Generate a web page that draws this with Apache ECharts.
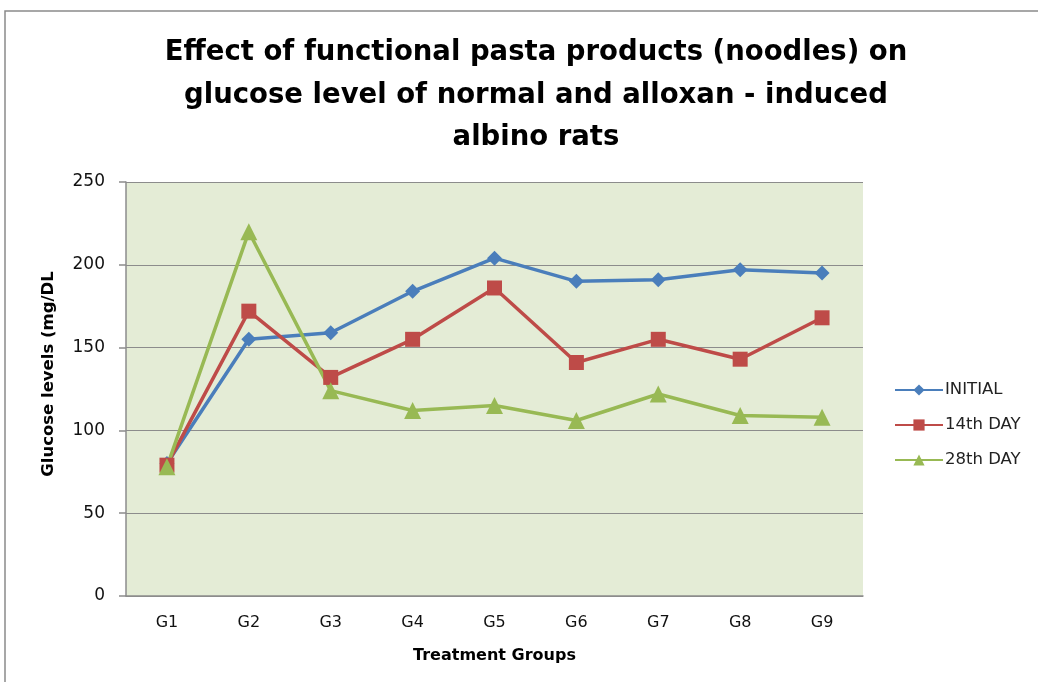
<!DOCTYPE html>
<html>
<head>
<meta charset="utf-8">
<script src="https://cdn.jsdelivr.net/npm/echarts@6/dist/echarts.min.js"></script>
<style>
  html, body { margin: 0; padding: 0; background: #ffffff; }
  #chart { width: 1038px; height: 682px; }
</style>
</head>
<body>
<div id="chart"></div>
<script>
// Treatment groups on the x axis
const groups = ['G1', 'G2', 'G3', 'G4', 'G5', 'G6', 'G7', 'G8', 'G9'];

// Glucose levels (mg/DL) per measurement day
const initialLevels = [80, 155, 159, 184, 204, 190, 191, 197, 195];
const day14Levels   = [79, 172, 132, 155, 186, 141, 155, 143, 168];
const day28Levels   = [78, 220, 124, 112, 115, 106, 122, 109, 108];

const seriesNames = ['INITIAL', '14th DAY', '28th DAY'];

const chart = echarts.init(document.getElementById('chart'), null, { renderer: 'canvas' });

const labelFont = '"DejaVu Sans", sans-serif';

function lineSeries(name, data, color, symbol, size) {
  return {
    name: name,
    type: 'line',
    data: data,
    symbol: symbol,
    symbolSize: size,
    showAllSymbol: true,
    lineStyle: { color: color, width: 3.5 },
    itemStyle: { color: color },
    emphasis: { disabled: true }
  };
}

chart.setOption({
  animation: false,
  backgroundColor: '#ffffff',
  graphic: [{
    type: 'rect',
    shape: { x: 5, y: 11, width: 1100, height: 1000 },
    style: { fill: 'none', stroke: '#8a8a8a', lineWidth: 1.5 },
    silent: true
  }],
  title: {
    text: 'Effect of functional pasta products (noodles) on\nglucose level of normal and alloxan - induced\nalbino rats',
    left: 531,
    top: 27,
    textAlign: 'center',
    textStyle: {
      fontFamily: labelFont,
      fontWeight: 'bold',
      fontSize: 27.5,
      lineHeight: 42.5,
      color: '#000000'
    }
  },
  legend: {
    orient: 'vertical',
    left: 889,
    top: 375,
    itemGap: 15,
    itemWidth: 48,
    itemHeight: 14,
    data: seriesNames,
    textStyle: { fontFamily: labelFont, fontSize: 16.5, lineHeight: 20, color: '#222222', padding: [0, 0, 0, -3] }
  },
  grid: {
    left: 126,
    top: 182,
    right: 175,
    bottom: 86,
    show: true,
    backgroundColor: '#e4ecd6',
    borderWidth: 0
  },
  xAxis: {
    type: 'category',
    data: groups,
    boundaryGap: true,
    name: 'Treatment Groups',
    nameLocation: 'middle',
    nameGap: 52,
    nameTextStyle: { fontFamily: labelFont, fontWeight: 'bold', fontSize: 16, color: '#000000' },
    axisLine: { show: true, lineStyle: { color: '#8c8c8c', width: 1.5 } },
    axisTick: { show: false },
    axisLabel: { fontFamily: labelFont, fontSize: 16, color: '#111111', margin: 19 }
  },
  yAxis: {
    type: 'value',
    min: 0,
    max: 250,
    interval: 50,
    name: 'Glucose levels (mg/DL',
    nameLocation: 'middle',
    nameGap: 69,
    nameTextStyle: { fontFamily: labelFont, fontWeight: 'bold', fontSize: 16.5, color: '#000000', padding: [0, 0, 0, 30] },
    axisLine: { show: true, lineStyle: { color: '#8c8c8c', width: 1.5 } },
    axisTick: { show: true, length: 7, lineStyle: { color: '#8c8c8c', width: 1.5 } },
    axisLabel: { fontFamily: labelFont, fontSize: 17, color: '#111111', margin: 21 },
    splitLine: { show: true, lineStyle: { color: '#8c8c8c', width: 1.2 } }
  },
  series: [
    lineSeries(seriesNames[0], initialLevels, '#4a7ebb', 'diamond', 15),
    lineSeries(seriesNames[1], day14Levels, '#be4b48', 'rect', 15),
    lineSeries(seriesNames[2], day28Levels, '#98b954', 'triangle', 17)
  ]
});
</script>
</body>
</html>
